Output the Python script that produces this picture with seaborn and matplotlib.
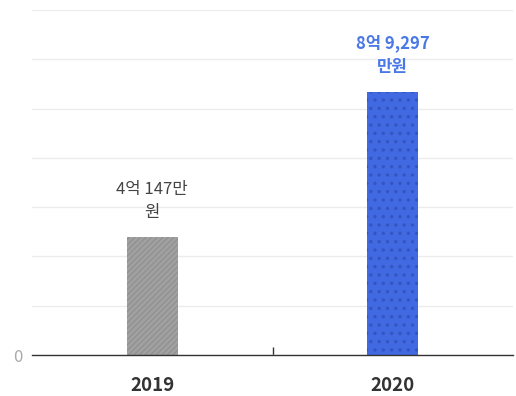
import matplotlib
matplotlib.use("Agg")
import matplotlib.pyplot as plt
import seaborn as sns
import pandas as pd
import numpy as np

years = ["2019", "2020"]
values = [40147, 89297]  # 만원
value_labels = ["4억 147만\n원", "8억 9,297\n만원"]
bar_colors = ["#a0a0a0", "#4169e1"]
hatch_colors = ["#8a8a8a", "#3355c0"]
hatches = ["//////", ".."]
hatch_lws = [0.6, 1.2]
label_colors = ["#444444", "#4a78e6"]
label_weights = ["normal", "bold"]

sns.set_theme(style="white")
plt.rcParams["font.family"] = ["Noto Sans CJK KR", "DejaVu Sans"]
plt.rcParams["hatch.linewidth"] = 0.6

df = pd.DataFrame({"year": years, "value": values})

fig = plt.figure(figsize=(5.16, 3.96), dpi=100)
ax = fig.add_axes([32/516, 1-355/396, 481/516, 345/396])

sns.barplot(data=df, x="year", y="value", hue="year", palette=bar_colors,
            width=0.21, legend=False, ax=ax, saturation=1)

for p, hc, h, hl in zip(ax.patches, hatch_colors, hatches, hatch_lws):
    p.set_hatch(h)
    p.set_edgecolor(hc)
    p.set_linewidth(0)
    if hasattr(p, "set_hatch_linewidth"):
        p.set_hatch_linewidth(hl)

ymax = 117000
ax.set_ylim(0, ymax)
ax.set_xlim(-0.5, 1.5)
ticks = np.linspace(0, ymax, 8)
ax.set_yticks(ticks)
ax.set_yticklabels(["0"] + [""] * 7)
ax.yaxis.grid(True, color="#ececec", linewidth=1)
ax.set_axisbelow(True)
for s in ["top", "right", "left"]:
    ax.spines[s].set_visible(False)
ax.spines["bottom"].set_color("#333333")
ax.spines["bottom"].set_linewidth(1)
ax.tick_params(axis="y", length=0, labelsize=12, labelcolor="#aaaaaa", pad=7)
ax.tick_params(axis="x", length=0, pad=15)
for t in ax.get_xticklabels():
    t.set_fontweight("bold")
    t.set_fontsize(13.5)
    t.set_color("#333333")
ax.set_xticks([0.5], minor=True)
ax.tick_params(axis="x", which="minor", direction="in", length=6, width=1, color="#333333", bottom=True)
ax.set_xlabel("")
ax.set_ylabel("")

for i, (v, lab) in enumerate(zip(values, value_labels)):
    ax.annotate(lab, xy=(i, v), xytext=(0, 11), textcoords="offset points",
                ha="center", va="bottom", fontsize=12, color=label_colors[i],
                fontweight=label_weights[i], linespacing=1.45)

fig.savefig("out.png", dpi=100)
